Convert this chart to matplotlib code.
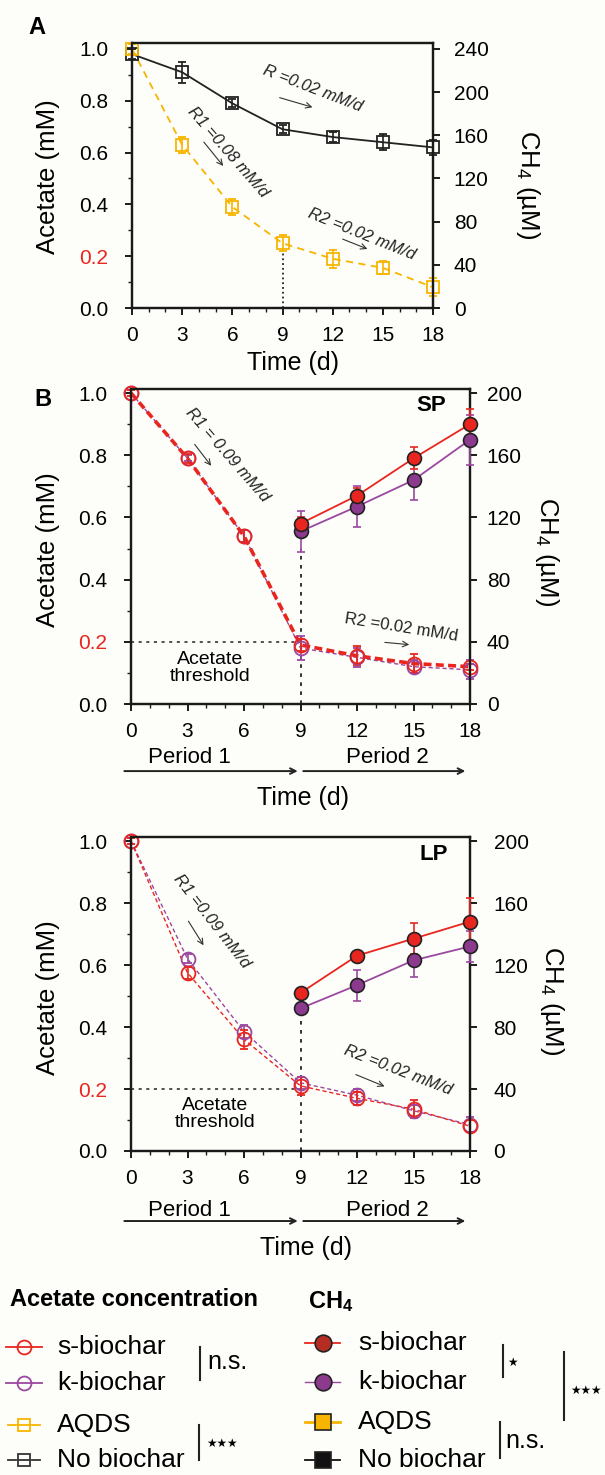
import numpy as np
import matplotlib
matplotlib.use("Agg")
import matplotlib.pyplot as plt
from matplotlib.ticker import MultipleLocator

plt.rcParams['font.family'] = ['Liberation Sans', 'DejaVu Sans']
plt.rcParams['mathtext.default'] = 'regular'

# ---------------- data ----------------
days = [0, 3, 6, 9, 12, 15, 18]
ch4_days = [9, 12, 15, 18]

# panel A (acetate, mM)
A_nobio = [0.98, 0.91, 0.79, 0.69, 0.66, 0.64, 0.62]
A_nobio_err = [0.02, 0.04, 0.015, 0.015, 0.02, 0.03, 0.03]
A_aqds = [1.0, 0.63, 0.39, 0.25, 0.19, 0.155, 0.08]
A_aqds_err = [0.02, 0.03, 0.03, 0.03, 0.035, 0.025, 0.035]

# panel B, SP
SP_ace_s = [1.0, 0.79, 0.54, 0.19, 0.155, 0.13, 0.12]
SP_ace_s_err = [0.01, 0.015, 0.02, 0.02, 0.03, 0.03, 0.01]
SP_ace_k = [1.0, 0.79, 0.54, 0.18, 0.15, 0.12, 0.11]
SP_ace_k_err = [0.01, 0.01, 0.02, 0.04, 0.03, 0.02, 0.03]
SP_ch4_s = [116, 134, 158, 180]
SP_ch4_s_err = [4, 5, 7, 10]
SP_ch4_k = [111, 127, 144, 170]
SP_ch4_k_err = [13, 13, 13, 16]

# panel B, LP
LP_ace_s = [1.0, 0.575, 0.36, 0.21, 0.17, 0.135, 0.08]
LP_ace_s_err = [0.01, 0.02, 0.03, 0.03, 0.02, 0.03, 0.02]
LP_ace_k = [1.0, 0.62, 0.385, 0.22, 0.18, 0.13, 0.085]
LP_ace_k_err = [0.01, 0.015, 0.02, 0.02, 0.02, 0.02, 0.025]
LP_ch4_s = [102, 126, 137, 148]
LP_ch4_s_err = [3, 3, 10, 15]
LP_ch4_k = [92, 107, 123, 132]
LP_ch4_k_err = [2, 10, 11, 10]

RED = '#e8261f'
PURPLE = '#9a48a0'
PURPLE_F = '#8b3a8e'
YELLOW = '#f7b500'
BG = '#fdfdf9'

fig = plt.figure(figsize=(6.05, 14.75), dpi=100, facecolor=BG)


def px_axes(l, t, r, b):
    return fig.add_axes([l / 605, 1 - b / 1475, (r - l) / 605, (b - t) / 1475])


def style(ax, ax2, ytop, rmax, rstep, rpad):
    ax.set_xlim(0, 18)
    ax.set_ylim(0, ytop)
    ax2.set_ylim(0, ytop * rmax)
    ax.set_xticks(days)
    ax.xaxis.set_minor_locator(MultipleLocator(1))
    ax.set_yticks(np.arange(0, 1.01, 0.2))
    ax.set_yticklabels(['0.0', '0.2', '0.4', '0.6', '0.8', '1.0'])
    ax.get_yticklabels()[1].set_color(RED)
    ax.yaxis.set_minor_locator(MultipleLocator(0.1))
    ax2.set_yticks(np.arange(0, rmax + 1, rstep))
    for a in (ax, ax2):
        for s in a.spines.values():
            s.set_linewidth(1.6)
            s.set_color('#1a1a1a')
        a.tick_params(which='major', length=5, width=1.4, labelsize=15, color='#1a1a1a')
        a.tick_params(which='minor', length=3, width=1.0, color='#1a1a1a')
    ax.tick_params(axis='y', which='major', pad=12)
    ax.tick_params(axis='x', which='major', pad=8)
    ax2.tick_params(axis='y', pad=rpad)
    ax.set_facecolor(BG)


def open_err(ax, x, y, e, color, ls, lw, marker, ms, dashes=None):
    kw = dict(fmt=marker, color=color, mfc='none', mec=color, ms=ms, mew=1.3,
              ecolor=color, elinewidth=1.2, capsize=3, capthick=1.2, clip_on=False, zorder=5)
    ax.errorbar(x, y, yerr=e, **kw)
    line, = ax.plot(x, y, color=color, ls=ls, lw=lw, clip_on=False, zorder=4)
    if dashes:
        line.set_dashes(dashes)


def filled_err(ax, x, y, e, color, fcolor, lw):
    ax.plot(x, y, color=color, lw=lw, zorder=4, clip_on=False)
    ax.errorbar(x, y, yerr=e, fmt='o', color=color, mfc=fcolor, mec='#222222', ms=10, mew=1.2,
                ecolor=color, elinewidth=1.2, capsize=3, capthick=1.2, clip_on=False, zorder=5)


def rate(ax, txt, tx, ty, rot, a0, a1, size=12, italic=True):
    ax.text(tx, ty, txt, rotation=rot, ha='center', va='center', fontsize=size,
            style='italic' if italic else 'normal', color='#222222', rotation_mode='anchor')
    ax.annotate('', xy=a1, xytext=a0,
                arrowprops=dict(arrowstyle='->', color='#333333', lw=0.8))


# ---------------- panel A ----------------
axA = px_axes(132, 43, 433, 308)
axA2 = axA.twinx()
style(axA, axA2, 1.023, 240, 40, 10)
open_err(axA, days, A_nobio, A_nobio_err, '#222222', '-', 1.3, 's', 8.5)
open_err(axA, days, A_aqds, A_aqds_err, YELLOW, '--', 1.3, 's', 8.5, dashes=(4, 3))
axA.plot([9, 9], [0, 0.22], color='#222222', ls=':', lw=1.3)
rate(axA, 'R =0.02 mM/d', 10.8, 0.845, -21, (8.67, 0.815), (10.95, 0.772))
rate(axA, 'R1 =0.08 mM/d', 5.74, 0.60, -49, (4.19, 0.649), (5.56, 0.54))
rate(axA, 'R2 =0.02 mM/d', 13.76, 0.285, -22, (12.44, 0.270), (14.23, 0.224))
axA.set_ylabel('Acetate (mM)', fontsize=18.5, rotation=90, ha='center', va='center')
axA.yaxis.set_label_coords(-0.279, 0.494)
axA2.set_ylabel('CH$_4$ (µM)', fontsize=18.5, rotation=270, ha='center', va='center')
axA2.yaxis.set_label_coords(1.316, 0.464)
axA.set_xlabel('Time (d)', fontsize=18)
axA.xaxis.set_label_coords(0.535, -0.162)


# ---------------- panel B (SP, LP) ----------------
def panel(ax, ax2, ace_s, ace_s_err, ace_k, ace_k_err, ch4_s, ch4_s_err, ch4_k, ch4_k_err,
          thick, tag, vtop, rpad):
    style(ax, ax2, 1.013, 200, 40, rpad)
    ax.plot([0, 9], [0.2, 0.2], color='#222222', ls=(0, (2, 3)), lw=1.1)
    ax.plot([9, 9], [0, vtop], color='#222222', ls=(0, (2, 3)), lw=1.3)
    open_err(ax, days, ace_k, ace_k_err, PURPLE, '--', 1.0, 'o', 10, dashes=(3, 2))
    if thick:
        open_err(ax, days, ace_s, ace_s_err, RED, '--', 2.6, 'o', 10, dashes=(2.2, 1.2))
    else:
        open_err(ax, days, ace_s, ace_s_err, RED, '--', 1.0, 'o', 10, dashes=(3, 2))
    filled_err(ax2, ch4_days, ch4_k, ch4_k_err, PURPLE, PURPLE_F, 1.3)
    filled_err(ax2, ch4_days, ch4_s, ch4_s_err, RED, RED, 1.3)
    ax.text(tag[1], tag[2], tag[0], fontsize=16, fontweight='bold', ha='center', va='center')
    ax.set_ylabel('Acetate (mM)', fontsize=18.5, rotation=90, ha='center', va='center')
    ax.yaxis.set_label_coords(-0.245, 0.489)
    ax2.set_ylabel('CH$_4$ (µM)', fontsize=18.5, rotation=270, ha='center', va='center')


axB = px_axes(131, 389, 470, 704)
axB2 = axB.twinx()
panel(axB, axB2, SP_ace_s, SP_ace_s_err, SP_ace_k, SP_ace_k_err,
      SP_ch4_s, SP_ch4_s_err, SP_ch4_k, SP_ch4_k_err, True, ('SP', 15.93, 0.961), 0.50, 7)
axB2.yaxis.set_label_coords(1.227, 0.483)
rate(axB, 'R1 = 0.09 mM/d', 5.1, 0.80, -49, (3.29, 0.842), (4.35, 0.759))
rate(axB, 'R2 =0.02 mM/d', 14.34, 0.245, -9, (13.33, 0.199), (14.92, 0.19), italic=False)
axB.text(4.2, 0.116, 'Acetate\nthreshold', fontsize=14, ha='center', va='center', linespacing=1.05)

axC = px_axes(131, 837, 470, 1151)
axC2 = axC.twinx()
panel(axC, axC2, LP_ace_s, LP_ace_s_err, LP_ace_k, LP_ace_k_err,
      LP_ch4_s, LP_ch4_s_err, LP_ch4_k, LP_ch4_k_err, False, ('LP', 16.1, 0.955), 0.44, 12)
axC2.yaxis.set_label_coords(1.242, 0.48)
rate(axC, 'R1 =0.09 mM/d', 4.3, 0.74, -52, (2.97, 0.749), (3.93, 0.656))
rate(axC, 'R2 =0.02 mM/d', 14.2, 0.262, -21, (11.8, 0.25), (13.6, 0.205))
axC.text(4.46, 0.119, 'Acetate\nthreshold', fontsize=14, ha='center', va='center', linespacing=1.05)

for ax, ptxt, parr, tl in [(axB, -0.171, -0.213, (0.507, -0.26)), (axC, -0.188, -0.223, (0.516, -0.271))]:
    tr = ax.get_xaxis_transform()
    ax.annotate('', xy=(9, parr), xytext=(-0.5, parr), xycoords=tr, textcoords=tr,
                arrowprops=dict(arrowstyle='->', color='#222222', lw=1.4), annotation_clip=False)
    ax.annotate('', xy=(17.9, parr), xytext=(9, parr), xycoords=tr, textcoords=tr,
                arrowprops=dict(arrowstyle='->', color='#222222', lw=1.4), annotation_clip=False)
    ax.text(3.1, ptxt, 'Period 1', transform=tr, fontsize=16, ha='center', va='center')
    ax.text(13.6, ptxt, 'Period 2', transform=tr, fontsize=16, ha='center', va='center')
    ax.set_xlabel('Time (d)', fontsize=18)
    ax.xaxis.set_label_coords(*tl)

fig.text(37 / 605, 1 - 27 / 1475, 'A', fontsize=17, fontweight='bold', ha='center', va='center')
fig.text(43 / 605, 1 - 399 / 1475, 'B', fontsize=17, fontweight='bold', ha='center', va='center')

# ---------------- legend (pixel layout) ----------------
lg = fig.add_axes([0, 0, 1, 1], zorder=-1)
lg.set_xlim(0, 605)
lg.set_ylim(1475, 0)
lg.axis('off')

lg.text(10, 1300, 'Acetate concentration', fontsize=17, fontweight='bold', ha='left', va='center')
lg.text(308, 1302, 'CH$_4$', fontsize=17, fontweight='bold', ha='left', va='center')

ace_entries = [('s-biochar', RED, '-', 'o', 1347), ('k-biochar', PURPLE, '-', 'o', 1383),
               ('AQDS', YELLOW, '--', 's', 1425), ('No biochar', '#333333', '--', 's', 1460)]
for name, c, ls, m, y in ace_entries:
    if ls == '-':
        lg.plot([6, 42], [y, y], color=c, lw=1.3)
    else:
        lg.plot([8, 16], [y, y], color=c, lw=1.3)
        lg.plot([32, 40], [y, y], color=c, lw=1.3)
        lg.plot([18, 30], [y, y], color=c, lw=1.3)
    lg.plot([24], [y], marker=m, ms=10 if m == 'o' else 9, mfc='none', mec=c, mew=1.3)
    lg.text(57, y, name, fontsize=19, ha='left', va='center')

ch4_entries = [('s-biochar', RED, '#b52d22', 'o', 1343, 1.3), ('k-biochar', PURPLE, PURPLE_F, 'o', 1382, 1.0),
               ('AQDS', YELLOW, YELLOW, 's', 1422, 2.0), ('No biochar', '#111111', '#111111', 's', 1460, 1.3)]
for name, c, fc, m, y, lw in ch4_entries:
    lg.plot([305, 340], [y, y], color=c, lw=lw)
    lg.plot([323], [y], marker=m, ms=12 if m == 'o' else 11, mfc=fc, mec='#222222', mew=1.2)
    lg.text(358, y, name, fontsize=19, ha='left', va='center')

# significance brackets
for x, y0, y1, t, tx, ty, fs in [(200, 1347, 1380, 'n.s.', 207, 1362, 18),
                                   (199, 1425, 1460, '★★★', 206, 1443, 8.5),
                                   (503, 1345, 1377, '★', 507, 1362, 8.5),
                                   (500, 1422, 1458, 'n.s.', 505, 1441, 18),
                                   (564, 1352, 1420, '★★★', 570, 1390, 8.5)]:
    lg.plot([x, x], [y0, y1], color='#222222', lw=1.5)
    lg.text(tx, ty, t, fontsize=fs, ha='left', va='center',
            family=['DejaVu Sans'] if '★' in t else ['Liberation Sans', 'DejaVu Sans'])

fig.savefig('out.png', dpi=100, facecolor=BG)
